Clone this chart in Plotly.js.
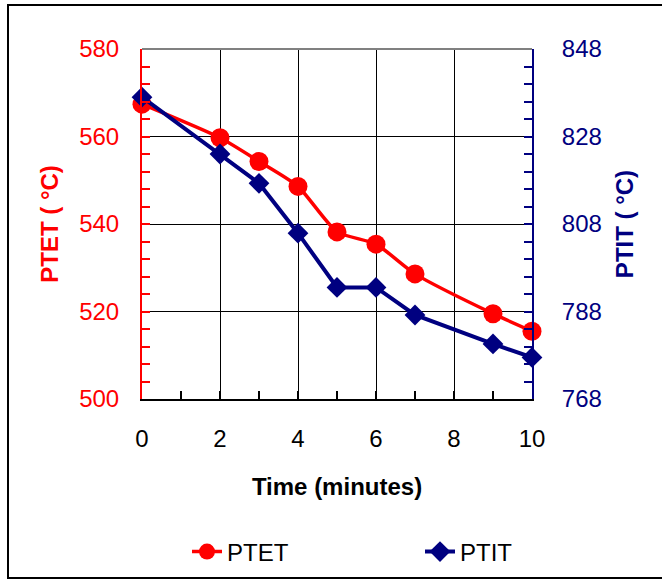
<!DOCTYPE html>
<html>
<head>
<meta charset="utf-8">
<script src="https://cdn.plot.ly/plotly-3.0.1.min.js"></script>
<style>
  html, body { margin: 0; padding: 0; background: #fff; overflow: hidden; }
  #chart { width: 662px; height: 580px; }
  #frame { position: absolute; left: 7px; top: 4px; width: 700px; height: 571px;
           border: 2.5px solid #000; pointer-events: none; }
</style>
</head>
<body>
<div id="chart"></div>
<div id="frame"></div>
<script>
// Data
const timeMinutes = [0, 2, 3, 4, 5, 6, 7, 9, 10];
const ptet = [567.4, 559.7, 554.3, 548.6, 538.2, 535.4, 528.6, 519.5, 515.5];
const ptit = [837.0, 824.0, 817.3, 805.9, 793.5, 793.5, 787.2, 780.6, 777.5];
const xTickVals = [0, 2, 4, 6, 8, 10];
const leftTickVals = [500, 520, 540, 560, 580];
const rightTickVals = [768, 788, 808, 828, 848];

const RED = '#FF0000';
const NAVY = '#000080';
const FONT = 'Liberation Sans, Arial, sans-serif';

const traces = [
  {
    x: timeMinutes, y: ptet, name: 'PTET', type: 'scatter', mode: 'lines+markers',
    line: { color: RED, width: 3.5, shape: 'spline', smoothing: 0.6 },
    marker: { symbol: 'circle', size: 19, color: RED },
    cliponaxis: false, yaxis: 'y', legendwidth: 188
  },
  {
    x: timeMinutes, y: ptit, name: 'PTIT', type: 'scatter', mode: 'lines+markers',
    line: { color: NAVY, width: 4 },
    marker: { symbol: 'diamond', size: 16, color: NAVY },
    cliponaxis: false, yaxis: 'y2'
  }
];

const layout = {
  width: 662, height: 580,
  margin: { l: 142, r: 130, t: 49, b: 181, autoexpand: false },
  paper_bgcolor: '#fff', plot_bgcolor: '#fff',
  font: { family: FONT, size: 24, color: '#000' },
  showlegend: true,
  legend: {
    orientation: 'h', xref: 'container', yref: 'container',
    x: 187 / 662, xanchor: 'left', y: 1 - 552 / 580, yanchor: 'middle',
    font: { family: FONT, size: 24, color: '#000' },
    itemwidth: 30,
    bgcolor: 'rgba(0,0,0,0)'
  },
  xaxis: {
    range: [0, 10], tickvals: xTickVals, ticktext: xTickVals.map(String),
    automargin: false,
    showgrid: true, gridcolor: '#000', gridwidth: 1,
    showline: true, linecolor: '#000', linewidth: 2,
    ticks: 'inside', ticklen: 8, tickcolor: '#000', tickwidth: 2,
    minor: { dtick: 1, tick0: 0, ticks: 'inside', ticklen: 8, tickcolor: '#000', tickwidth: 2, showgrid: false },
    zeroline: false, ticklabelstandoff: 17,
    tickfont: { family: FONT, size: 24, color: '#000' },
    title: { text: 'Time (minutes)', font: { family: FONT, size: 24, color: '#000', weight: 'bold' }, standoff: 27 }
  },
  yaxis: {
    range: [500, 580], tickvals: leftTickVals,
    automargin: false,
    showgrid: true, gridcolor: '#000', gridwidth: 1,
    showline: true, linecolor: RED, linewidth: 2,
    ticks: 'inside', ticklen: 8, tickcolor: RED, tickwidth: 2,
    minor: { dtick: 4, tick0: 500, ticks: 'inside', ticklen: 8, tickcolor: RED, tickwidth: 2, showgrid: false },
    zeroline: false, ticklabelstandoff: 16,
    tickfont: { family: FONT, size: 24, color: RED },
    title: { text: 'PTET ( °C)', font: { family: FONT, size: 24, color: RED, weight: 'bold' }, standoff: 14 }
  },
  yaxis2: {
    overlaying: 'y', side: 'right',
    range: [768, 848], tickvals: rightTickVals,
    automargin: false,
    showgrid: false,
    showline: true, linecolor: NAVY, linewidth: 2,
    ticks: 'inside', ticklen: 8, tickcolor: NAVY, tickwidth: 2,
    minor: { dtick: 4, tick0: 768, ticks: 'inside', ticklen: 8, tickcolor: NAVY, tickwidth: 2, showgrid: false },
    zeroline: false, ticklabelstandoff: 23,
    tickfont: { family: FONT, size: 24, color: NAVY },
    title: { text: 'PTIT ( °C)', font: { family: FONT, size: 24, color: NAVY, weight: 'bold' }, standoff: 15 }
  },
  shapes: [
    { type: 'line', xref: 'paper', yref: 'paper', x0: 0, x1: 1, y0: 1, y1: 1,
      line: { color: '#808080', width: 2 }, layer: 'above' }
  ]
};

Plotly.newPlot('chart', traces, layout, { displayModeBar: false, staticPlot: true });
</script>
</body>
</html>
